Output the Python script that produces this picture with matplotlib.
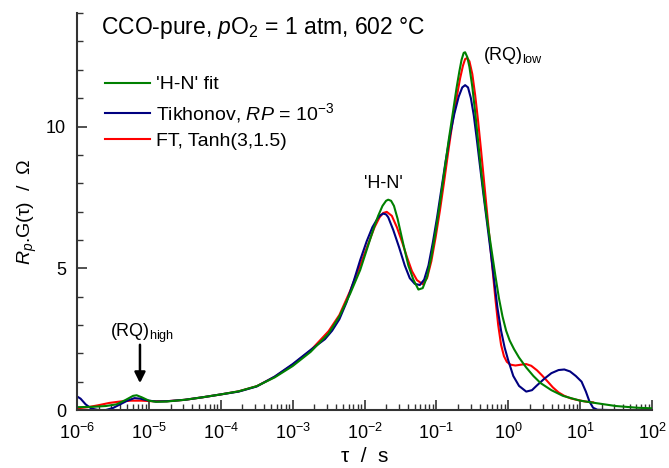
import numpy as np
import matplotlib.pyplot as plt

plt.rcParams['font.family'] = ['Liberation Sans', 'DejaVu Sans']
plt.rcParams['mathtext.fontset'] = 'custom'
plt.rcParams['mathtext.rm'] = 'Liberation Sans'
plt.rcParams['mathtext.it'] = 'Liberation Sans:italic'
plt.rcParams['mathtext.bf'] = 'Liberation Sans:bold'

# DRT curves, x stored as log10(tau / s), y as Rp*G(tau) in Ohm
hn_logtau = [-6.0, -5.8, -5.6, -5.45, -5.32, -5.22, -5.17, -5.1, -5.0, -4.9,
             -4.75, -4.5, -4.25, -4.0, -3.75, -3.5, -3.25, -3.0, -2.75, -2.5,
             -2.35, -2.2, -2.06, -1.95, -1.88, -1.81, -1.75, -1.7, -1.67, -1.63,
             -1.59, -1.54, -1.46, -1.39, -1.32, -1.25, -1.19, -1.13, -1.07, -1.01,
             -0.95, -0.89, -0.83, -0.77, -0.72, -0.68, -0.65, -0.62, -0.6, -0.57,
             -0.54, -0.5, -0.46, -0.42, -0.38, -0.33, -0.28, -0.23, -0.18, -0.13,
             -0.08, -0.03, 0.02, 0.08, 0.15, 0.25, 0.35, 0.45, 0.6, 0.76,
             0.9, 1.0, 1.23, 1.5, 1.8, 2.0]
hn_g = [0.10, 0.11, 0.14, 0.20, 0.36, 0.50, 0.52, 0.45, 0.33, 0.29,
        0.30, 0.36, 0.45, 0.55, 0.66, 0.84, 1.15, 1.55, 2.05, 2.70,
        3.30, 4.10, 4.94, 5.80, 6.35, 6.85, 7.20, 7.38, 7.42, 7.38,
        7.20, 6.75, 5.85, 5.10, 4.60, 4.25, 4.30, 4.70, 5.40, 6.30,
        7.30, 8.40, 9.50, 10.50, 11.35, 11.95, 12.35, 12.60, 12.62, 12.45,
        12.10, 11.40, 10.50, 9.50, 8.50, 7.40, 6.45, 5.60, 4.75, 3.95,
        3.30, 2.80, 2.45, 2.15, 1.85, 1.50, 1.20, 0.95, 0.70, 0.50,
        0.40, 0.33, 0.24, 0.14, 0.08, 0.06]

tik_logtau = [-6.0, -5.95, -5.88, -5.8, -5.7, -5.6, -5.5, -5.4, -5.3, -5.2,
              -5.12, -5.0, -4.9, -4.75, -4.5, -4.25, -4.0, -3.75, -3.5, -3.25,
              -3.0, -2.75, -2.55, -2.45, -2.35, -2.25, -2.15, -2.06, -1.97, -1.89,
              -1.82, -1.78, -1.74, -1.7, -1.67, -1.6, -1.52, -1.44, -1.37, -1.3,
              -1.23, -1.17, -1.11, -1.05, -0.99, -0.93, -0.87, -0.81, -0.75, -0.69,
              -0.64, -0.6, -0.56, -0.52, -0.48, -0.44, -0.4, -0.35, -0.3, -0.25,
              -0.2, -0.15, -0.1, -0.05, 0.0, 0.07, 0.15, 0.25, 0.33, 0.4,
              0.5, 0.6, 0.7, 0.78, 0.86, 0.94, 1.02, 1.08, 1.13, 1.18,
              1.24, 1.4, 2.0]
tik_g = [0.48, 0.40, 0.20, 0.05, 0.0, 0.0, 0.07, 0.20, 0.33, 0.42,
         0.40, 0.33, 0.30, 0.31, 0.36, 0.45, 0.55, 0.65, 0.83, 1.18,
         1.62, 2.12, 2.50, 2.80, 3.20, 3.80, 4.55, 5.29, 5.95, 6.45,
         6.75, 6.87, 6.93, 6.90, 6.80, 6.35, 5.75, 5.10, 4.65, 4.45,
         4.41, 4.60, 5.10, 5.90, 6.80, 7.80, 8.80, 9.70, 10.45, 11.05,
         11.38, 11.46, 11.38, 11.00, 10.40, 9.60, 8.75, 7.70, 6.70, 5.70,
         4.65, 3.60, 2.80, 2.20, 1.75, 1.20, 0.85, 0.65, 0.70, 0.87,
         1.10, 1.30, 1.41, 1.43, 1.36, 1.20, 1.00, 0.65, 0.30, 0.08,
         0.01, 0.0, 0.0]

ft_logtau = [-6.0, -5.85, -5.7, -5.55, -5.4, -5.25, -5.1, -4.95, -4.75, -4.5,
             -4.25, -4.0, -3.75, -3.5, -3.25, -3.0, -2.75, -2.5, -2.35, -2.2,
             -2.06, -1.95, -1.86, -1.79, -1.74, -1.69, -1.62, -1.55, -1.48, -1.41,
             -1.34, -1.27, -1.19, -1.13, -1.07, -1.01, -0.95, -0.89, -0.83, -0.77,
             -0.72, -0.67, -0.63, -0.6, -0.57, -0.54, -0.5, -0.46, -0.42, -0.38,
             -0.34, -0.3, -0.26, -0.22, -0.18, -0.14, -0.1, -0.06, -0.02, 0.03,
             0.1, 0.18, 0.25, 0.32, 0.4, 0.47, 0.55, 0.62, 0.7, 0.78,
             0.87, 0.97, 1.07, 1.18]
ft_g = [0.06, 0.10, 0.17, 0.25, 0.30, 0.33, 0.33, 0.31, 0.31, 0.36,
        0.45, 0.55, 0.66, 0.84, 1.17, 1.60, 2.10, 2.78, 3.35, 4.20,
        5.11, 5.85, 6.45, 6.80, 6.95, 6.99, 6.85, 6.45, 5.95, 5.40,
        4.90, 4.58, 4.44, 4.65, 5.25, 6.10, 7.05, 8.10, 9.20, 10.25,
        11.00, 11.70, 12.15, 12.38, 12.42, 12.30, 11.85, 11.10, 10.20, 9.20,
        8.15, 7.10, 6.05, 5.00, 3.95, 3.00, 2.30, 1.90, 1.70, 1.60,
        1.57, 1.60, 1.62, 1.56, 1.40, 1.22, 1.00, 0.80, 0.62, 0.50,
        0.41, 0.35, 0.30, 0.27]

fig = plt.figure(figsize=(6.69, 4.68), dpi=100)
ax = fig.add_axes([0.1151, 0.1239, 0.8595, 0.848])

lw = 1.5
l_ft, = ax.plot(10 ** np.array(ft_logtau), ft_g, color='#ff0000', lw=lw,
                label='FT, Tanh(3,1.5)')
l_tik, = ax.plot(10 ** np.array(tik_logtau), tik_g, color='#000080', lw=lw,
                 label='Tikhonov, $RP$ = 10$^{-3}$')
l_hn, = ax.plot(10 ** np.array(hn_logtau), hn_g, color='#008000', lw=lw,
                label="'H-N' fit")

ax.set_xscale('log')
ax.set_xlim(1e-6, 1e2)
ax.set_ylim(0, 14)
ax.set_yticks([0, 5, 10])
ax.set_yticks(np.arange(0, 15, 1), minor=True)
ax.xaxis.set_major_locator(plt.LogLocator(base=10, numticks=20))
ax.xaxis.set_minor_locator(plt.LogLocator(base=10, subs=np.arange(2, 10), numticks=20))
ax.xaxis.set_minor_formatter(plt.NullFormatter())

for side in ('top', 'right'):
    ax.spines[side].set_visible(False)
for side in ('left', 'bottom'):
    ax.spines[side].set_linewidth(1.5)
    ax.spines[side].set_color('#333333')
ax.tick_params(which='major', direction='in', length=7, width=1.2,
               color='#333333', labelsize=13)
ax.tick_params(which='minor', direction='in', length=4, width=1.0,
               color='#333333')
ax.tick_params(axis='x', which='major', pad=9)
ax.tick_params(axis='y', which='major', pad=8)

ax.set_xlabel('τ  /  s', fontsize=15, labelpad=3)
ax.set_ylabel('$R_p$.G(τ)  /  Ω', fontsize=14, labelpad=5)

ax.text(0.042, 0.962, 'CCO-pure, $p$O$_2$ = 1 atm, 602 °C', transform=ax.transAxes,
        fontsize=16.5, ha='left', va='center')

ax.legend(handles=[l_hn, l_tik, l_ft], loc='upper left', bbox_to_anchor=(0.049, 0.842),
          frameon=False, fontsize=14, handlelength=2.3, handletextpad=0.3,
          labelspacing=0.38, borderpad=0, borderaxespad=0)

ax.text(10 ** -1.744, 8.0, "'H-N'", fontsize=13, ha='center', va='center')
ax.text(10 ** -0.353, 12.5, '(RQ)$_{\\mathrm{low}}$', fontsize=13, ha='left', va='center')
ax.text(10 ** -5.54, 2.7, '(RQ)$_{\\mathrm{high}}$', fontsize=13, ha='left', va='center')
ax.annotate('', xy=(10 ** -5.124, 0.85), xytext=(10 ** -5.124, 2.4),
            arrowprops=dict(arrowstyle='-|>', color='black', lw=1.8,
                            mutation_scale=16))

fig.savefig('out.png', dpi=100)
